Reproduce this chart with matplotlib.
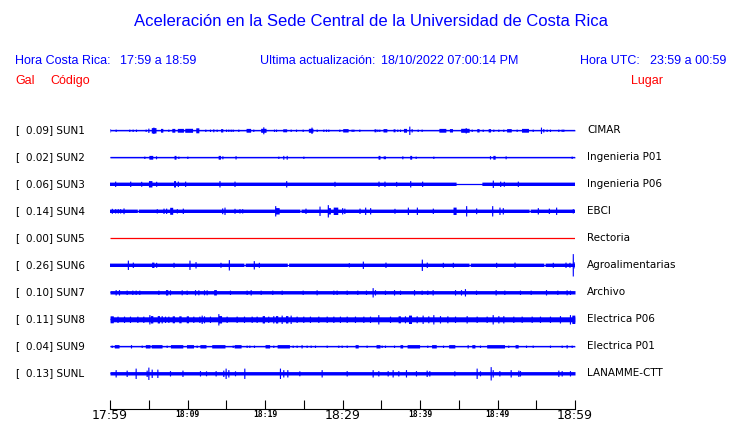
import numpy as np
import matplotlib
matplotlib.use("Agg")
import matplotlib.pyplot as plt

# ---------------- data ----------------
STATIONS = ["SUN1", "SUN2", "SUN3", "SUN4", "SUN5", "SUN6", "SUN7", "SUN8", "SUN9", "SUNL"]
PGA = [0.09, 0.02, 0.06, 0.14, 0.00, 0.26, 0.10, 0.11, 0.04, 0.13]
PLACES = ["CIMAR", "Ingenieria P01", "Ingenieria P06", "EBCI", "Rectoria",
          "Agroalimentarias", "Archivo", "Electrica P06", "Electrica P01", "LANAMME-CTT"]
TICK_MIN = [0, 5, 10, 15, 20, 25, 30, 35, 40, 45, 50, 55, 60]
TICK_LABELS = {0: "17:59", 10: "18:09", 20: "18:19", 30: "18:29", 40: "18:39", 50: "18:49", 60: "18:59"}
BIG_LABELS = [0, 30, 60]

# background (noise) half-amplitude of every trace
BASE_AMP = [0.5, 0.5, 1.7, 1.7, 0.0, 1.7, 1.7, 2.5, 0.5, 1.7]

# events: (minute, half-amplitude[, duration in minutes])
SUN1_EVENTS = [(0.0, 1.5), (0.73, 1), (2.49, 1), (2.92, 1), (3.35, 1), (4.60, 1), (4.95, 2),
               (5.63, 2.5, 0.6), (5.6, 3), (6.67, 1.7, 0.3), (7.53, 1), (8.17, 1.7, 0.4),
               (9.08, 1.7, 0.8), (10.15, 1.8, 1.0), (11.27, 2.3, 0.4), (12.3, 1), (12.9, 1),
               (13.33, 1.3), (13.76, 1), (14.41, 1.5, 0.3), (14.97, 1), (15.27, 1), (15.57, 1),
               (15.83, 1), (16.56, 1), (17.85, 1.7, 0.6), (18.49, 1), (19.78, 1.8, 0.7),
               (19.78, 3.3), (21.16, 1), (21.42, 1), (22.54, 1.3, 0.5), (23.31, 1), (24.0, 1),
               (24.86, 1), (25.89, 1.8, 0.6), (26.0, 3), (26.67, 1), (27.53, 1), (27.87, 1),
               (28.17, 1), (29.59, 1), (30.19, 1.5), (30.37, 1.5, 0.7), (31.18, 1), (31.40, 1),
               (32.17, 1), (34.19, 1.3, 0.25), (34.5, 1), (34.75, 1), (35.48, 1.5, 0.5),
               (36.65, 1.3, 0.25), (37.07, 1), (37.42, 1), (38.06, 1.7, 0.4), (38.62, 4),
               (38.92, 1.5), (39.7, 1), (40.21, 1), (42.88, 1.7, 0.9), (44.0, 1.5, 0.4),
               (45.8, 1.8, 1.1), (45.9, 2.5), (46.67, 1), (47.48, 1.5, 0.3), (48.09, 1),
               (48.95, 1.5, 0.3), (49.46, 1), (50.11, 1), (50.75, 1), (51.48, 1.5, 0.6),
               (52.47, 1), (53.55, 1.7, 0.9), (54.54, 1), (55.61, 3), (55.91, 1.5), (56.34, 1),
               (56.77, 1), (57.85, 1), (58.28, 1), (58.49, 1)]
SUN2_EVENTS = [(4.43, 1), (5.27, 1.7, 0.5), (5.94, 1.3), (8.39, 1.7, 0.25), (8.82, 1), (9.98, 1),
               (14.11, 1.7, 0.3), (14.5, 1.3), (16.2, 1.5), (21.72, 1), (22.36, 1.7),
               (22.8, 1.7), (24.95, 1), (34.71, 1.7, 0.25), (35.4, 1.2, 0.3), (37.72, 1.3),
               (38.8, 1.7, 0.25), (39.44, 1), (41.72, 1), (49.03, 1.5), (49.55, 1.7, 0.3),
               (51.05, 1.3), (59.57, 1)]
SUN3_EVENTS = [(0.73, 2.5), (2.67, 2.5), (4.09, 2.3), (5.25, 3, 0.45), (6.02, 2.3),
               (8.39, 3, 0.25), (8.82, 2.5), (9.76, 2.5), (14.19, 3), (16.13, 2.5), (22.8, 3),
               (29.03, 2.3), (34.71, 2.5), (35.48, 2.5), (36.99, 2.2), (38.8, 3), (40.34, 2.5),
               (49.46, 3.5), (50.41, 2.5), (50.88, 2.3), (52.69, 2.5)]
SUN4_EVENTS = [(0.30, 2.3), (0.73, 2), (1.07, 2), (1.37, 2), (1.81, 2.7), (6.1, 2), (6.97, 2.5),
               (7.31, 2.5), (7.96, 3.3, 0.4), (8.69, 2), (9.46, 2.5), (14.54, 2.7), (14.84, 3.5),
               (16.13, 2.3), (16.77, 2), (17.12, 2), (21.6, 3, 0.6), (21.38, 5), (25.29, 2.5),
               (27.1, 4.5), (28.17, 6), (28.3, 3, 0.4), (29.16, 3.5, 0.6), (30.02, 3),
               (30.3, 2.5), (32.26, 2.5), (32.99, 3.5), (33.63, 3), (36.77, 2.3), (38.5, 3.5),
               (39.66, 3.5), (41.72, 2.5), (44.52, 3.5, 0.4), (46.02, 5), (47.31, 2.7),
               (49.38, 5), (50.32, 3.5), (50.75, 3), (55.27, 3), (56.69, 2.5), (57.63, 3.5),
               (59.78, 2)]
SUN5_EVENTS = []
SUN6_EVENTS = [(2.37, 4.5), (3.01, 2.5), (5.59, 2.5, 0.3), (6.02, 2.3), (8.26, 2.3), (10.32, 4.5),
               (11.1, 3), (14.32, 2.3), (15.4, 5), (18.62, 4), (19.27, 2.3), (30.88, 2),
               (32.69, 3.5), (35.61, 2.5), (40.3, 5.5), (40.94, 2.5), (43.01, 2.3), (44.3, 2.3),
               (49.89, 2.3), (52.26, 2.5), (57.2, 2.3), (58.84, 2.5), (59.35, 2.3),
               (59.78, 11), (60.0, 3)]
SUN7_EVENTS = [(0.73, 2.5), (1.16, 2.5), (2.15, 2), (2.88, 2), (3.31, 2), (3.78, 2), (6.24, 2),
               (7.31, 2.5, 0.3), (7.74, 2.3), (9.25, 2.3), (9.89, 2), (10.97, 2.5), (11.4, 2.3),
               (12.13, 2.3), (12.47, 2.3), (13.55, 2.5, 0.35), (15.48, 2), (17.63, 2),
               (18.15, 2.5), (19.44, 2), (20.94, 2), (22.15, 2), (24.86, 2), (26.66, 2.3),
               (28.82, 2), (29.24, 2), (30.54, 2), (31.91, 2), (33.03, 2), (33.89, 4.5),
               (34.19, 2.5), (35.48, 2), (36.65, 2.5), (37.42, 2), (39.23, 2.5), (40.21, 2),
               (40.94, 2), (41.63, 2.5), (44.52, 2.5), (45.29, 2.5), (45.8, 3.5), (47.23, 2),
               (49.76, 2.5), (50.88, 2), (52.9, 2), (54.28, 2), (56.26, 2.5), (57.72, 2),
               (58.92, 2.3), (59.35, 2)]
SUN8_EVENTS = [(0.22, 3.3, 0.4), (0.97, 3), (1.81, 3), (2.58, 3), (3.53, 3), (4.3, 3),
               (5.08, 4.5), (5.38, 3.5, 0.3), (6.24, 3.5, 0.3), (6.67, 3.5), (7.1, 3), (7.53, 3),
               (8.17, 3.3, 0.3), (9.03, 3.3, 0.3), (9.98, 3.3, 0.3), (10.75, 3), (11.53, 3),
               (11.83, 4), (12.13, 3.3), (12.9, 3), (13.98, 5.5), (14.2, 3.5, 0.4), (15.05, 3),
               (16.34, 3), (17.29, 3), (18.28, 3), (18.92, 3), (19.78, 3.5, 0.3), (20.42, 3),
               (21.07, 3.5), (21.5, 3.5, 0.3), (22.15, 4), (22.8, 3.5, 0.3), (23.31, 4),
               (24.08, 3), (24.94, 3), (25.8, 3), (26.88, 3), (27.96, 3), (28.82, 3),
               (29.67, 3), (30.54, 3), (31.61, 3), (32.69, 3), (33.55, 3), (34.62, 4.5),
               (36.13, 3), (37.33, 3.3, 0.3), (38.06, 3.3), (38.71, 4, 0.4), (39.57, 3.3),
               (40.34, 4), (41.07, 3.3), (41.72, 4.5), (42.58, 3.5), (43.53, 3.3), (44.52, 3),
               (46.02, 3.5), (47.31, 3), (48.6, 3), (49.38, 4.5), (50.11, 3.5), (50.75, 3.5),
               (52.04, 3), (53.12, 3), (54.41, 3), (55.48, 3), (56.77, 3), (58.06, 3.5),
               (59.35, 4.5), (59.78, 4, 0.4)]
SUN9_EVENTS = [(0.22, 1), (0.86, 1.5, 0.6), (2.71, 1.5), (4.09, 1), (4.86, 1.5, 0.6),
               (6.02, 1.5, 1.4), (7.31, 1), (8.6, 1.5, 1.6), (10.32, 1.5, 0.9), (11.18, 1),
               (11.99, 1.5, 0.8), (13.98, 1.5, 1.7), (15.83, 1), (16.47, 1.5, 0.9), (17.63, 1),
               (17.98, 1), (18.58, 1), (20.3, 1.5, 0.6), (21.07, 1), (22.36, 1.5, 1.6),
               (23.57, 1), (24.08, 1), (24.72, 1.5), (25.37, 1), (25.89, 1), (26.45, 1),
               (27.96, 1), (29.46, 1), (29.89, 1), (30.54, 1), (31.83, 1.5, 0.4), (33.11, 1),
               (34.58, 1.5, 0.5), (35.05, 1), (35.48, 1), (36.65, 1), (37.59, 1.5, 0.35),
               (39.14, 1.5, 1.6), (40.94, 1), (41.8, 1.5, 0.6), (42.97, 1), (44.09, 1.5, 0.8),
               (46.15, 1.5), (46.88, 1.5, 0.4), (47.74, 1), (49.76, 1.5, 2.3), (51.39, 1),
               (52.47, 1.5, 0.4), (53.68, 1), (54.54, 1), (56.77, 1), (58.28, 1), (58.92, 1.5),
               (59.57, 1)]
SUNL_EVENTS = [(0.73, 3.5), (2.15, 3), (3.31, 5), (4.73, 3), (4.95, 6), (5.38, 4), (6.11, 4),
               (7.74, 2.5), (9.35, 3), (11.61, 2.5), (12.39, 2.3), (13.63, 2.5), (14.62, 3),
               (14.92, 5), (15.27, 3.5), (16.13, 2.3), (17.33, 5), (21.93, 5), (22.36, 3.5),
               (22.88, 3.5), (24.43, 2.3), (27.31, 3.5), (30.54, 2.5), (33.89, 3.5),
               (34.62, 2.5), (35.83, 2.5), (36.47, 3.5), (37.2, 2.5), (38.19, 3.5), (39.48, 2.5),
               (40.86, 3), (41.2, 2.5), (44.43, 2.3), (47.31, 5), (47.74, 2.3), (49.12, 6.5),
               (49.38, 3.5), (50.24, 2.5), (51.7, 3.5), (52.69, 3), (52.9, 2.5), (57.85, 3),
               (58.28, 2.5), (59.35, 2.5)]
EVENTS = [SUN1_EVENTS, SUN2_EVENTS, SUN3_EVENTS, SUN4_EVENTS, SUN5_EVENTS,
          SUN6_EVENTS, SUN7_EVENTS, SUN8_EVENTS, SUN9_EVENTS, SUNL_EVENTS]

# intervals (minutes) where the noise band drops out
SUN3_GAPS = [(44.73, 48.04)]
SUN4_GAPS = [(3.6, 3.7), (24.58, 24.7), (54.15, 54.27)]
SUN6_GAPS = [(17.35, 17.5), (22.95, 23.1), (46.4, 46.55), (56.05, 56.2)]
GAPS = [[], [], SUN3_GAPS, SUN4_GAPS, [], SUN6_GAPS, [], [], [], []]

# ---------------- figure ----------------
W, H = 740, 423
fig = plt.figure(figsize=(W / 100, H / 100), dpi=100)
fig.patch.set_facecolor("white")

BLUE = "#0000ff"
RED = "#ff0000"

def fx(px):
    return px / W

def fy(py):
    return 1 - py / H

# header
fig.text(fx(371), fy(22), "Aceleración en la Sede Central de la Universidad de Costa Rica",
         ha="center", va="center", color=BLUE, fontsize=12, family="Liberation Sans")
hdr = dict(va="center", color=BLUE, fontsize=9, family="Liberation Sans")
fig.text(fx(15), fy(61), "Hora Costa Rica:", ha="left", **hdr)
fig.text(fx(120.5), fy(61), "17:59 a 18:59", ha="left", **hdr)
fig.text(fx(260.5), fy(61), "Ultima actualización:", ha="left", **hdr)
fig.text(fx(381), fy(61), "18/10/2022 07:00:14 PM", ha="left", **hdr)
fig.text(fx(580.5), fy(61), "Hora UTC:", ha="left", **hdr)
fig.text(fx(650), fy(61), "23:59 a 00:59", ha="left", **hdr)
red = dict(va="center", color=RED, fontsize=9, family="Liberation Sans")
fig.text(fx(15), fy(81), "Gal", ha="left", **red)
fig.text(fx(50), fy(81), "Código", ha="left", **red)
fig.text(fx(630.5), fy(81), "Lugar", ha="left", **red)

# traces axes (y data in pixel rows)
TOP_PX, BOT_PX = 100.0, 409.3
ax = fig.add_axes([fx(110), fy(BOT_PX), fx(575) - fx(110), (BOT_PX - TOP_PX) / H])
ax.set_xlim(0, 60)
ax.set_ylim(BOT_PX, TOP_PX)
ax.patch.set_alpha(0)
for s in ["top", "left", "right"]:
    ax.spines[s].set_visible(False)
ax.spines["bottom"].set_linewidth(0.8)
ax.set_yticks([])
ax.set_xticks(TICK_MIN)
ax.set_xticklabels([""] * len(TICK_MIN))
ax.tick_params(axis="x", direction="in", length=6.3, width=0.8, color="black")

T = np.linspace(0, 60, 6001)
ROW0, ROWSTEP = 130.3, 27.0

for i, st in enumerate(STATIONS):
    y0 = ROW0 + ROWSTEP * i
    env = np.full_like(T, BASE_AMP[i])
    for g0, g1 in GAPS[i]:
        env[(T >= g0) & (T <= g1)] = 0.0
    for ev in EVENTS[i]:
        t0, a = ev[0], ev[1]
        w = ev[2] if len(ev) > 2 else 0.15
        m = np.abs(T - t0) <= w / 2
        env[m] = np.maximum(env[m], a + 0.2)
    col = RED if PGA[i] == 0 else BLUE
    ax.hlines(y0, 0, 60, color=col, lw=0.9)
    if env.max() > 0:
        ax.fill_between(T, y0 - env, y0 + env, where=env > 0, color=col, lw=0,
                        interpolate=False)
    # labels
    yl = fy(y0)
    fig.text(fx(15), yl, "[", ha="left", va="center", fontsize=7.5, family="DejaVu Sans")
    fig.text(fx(26.5), yl, f"{PGA[i]:.2f}] {st}", ha="left", va="center", fontsize=7.5,
             family="DejaVu Sans")
    fig.text(fx(587), yl, PLACES[i], ha="left", va="center", fontsize=7.5,
             family="DejaVu Sans")

# time labels
for t, lbl in TICK_LABELS.items():
    if t in BIG_LABELS:
        ax.annotate(lbl, xy=(t, 0), xycoords=("data", "axes fraction"),
                    xytext=(0, -6.5 * 0.72), textcoords="offset points",
                    ha="center", va="center", fontsize=9, family="DejaVu Sans")
    else:
        ax.annotate(lbl, xy=(t, 0), xycoords=("data", "axes fraction"),
                    xytext=(0, -5.0 * 0.72), textcoords="offset points",
                    ha="center", va="center", fontsize=5.8, family="DejaVu Sans Mono",
                    fontweight="bold")

fig.savefig("out.png", dpi=100, facecolor="white")
